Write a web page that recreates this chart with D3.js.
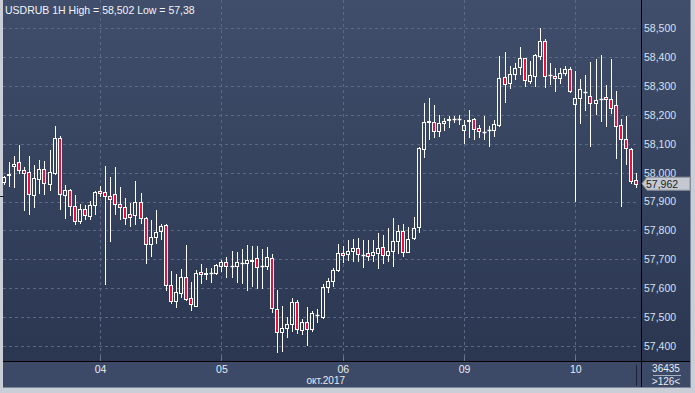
<!DOCTYPE html>
<html><head><meta charset="utf-8">
<script src="https://cdn.jsdelivr.net/npm/d3@7"></script>
<style>html,body{margin:0;padding:0;background:#c9ced7;overflow:hidden}svg{display:block}</style>
</head><body><svg id="c" width="695" height="393"></svg>
<script>
const opens=[57.969,57.992,58.022,58.036,58.008,58.001,57.924,57.978,58.013,57.960,58.000,58.119,57.923,57.940,57.886,57.832,57.873,57.850,57.889,57.937,
57.933,57.918,57.925,57.890,57.880,57.857,57.852,57.898,57.842,57.752,57.776,57.798,57.818,57.610,57.554,57.582,57.638,57.565,57.539,57.655,
57.650,57.651,57.651,57.675,57.691,57.676,57.678,57.686,57.688,57.695,57.704,57.675,57.675,57.704,57.527,57.447,57.463,57.475,57.551,57.454,
57.481,57.457,57.506,57.500,57.604,57.624,57.662,57.721,57.718,57.730,57.739,57.714,57.722,57.715,57.721,57.742,57.715,57.727,57.763,57.798,
57.726,57.773,57.811,58.081,58.177,58.177,58.146,58.171,58.184,58.186,58.185,58.148,58.179,58.185,58.154,58.140,58.148,58.148,58.165,58.331,
58.310,58.342,58.366,58.396,58.319,58.336,58.405,58.456,58.339,58.335,58.327,58.347,58.358,58.237,58.259,58.279,58.267,58.240,58.255,58.261,
58.254,58.233,58.164,58.116,58.081,57.975];
const highs=[57.990,58.038,58.058,58.096,58.019,58.058,58.025,58.044,58.041,58.079,58.163,58.128,57.957,57.945,57.923,57.892,57.888,57.903,57.937,57.955,
58.023,57.986,58.020,57.949,57.911,57.896,57.971,57.931,57.845,57.836,57.871,57.821,57.822,57.659,57.649,57.665,57.749,57.622,57.663,57.684,
57.671,57.671,57.683,57.698,57.709,57.728,57.726,57.735,57.749,57.747,57.747,57.734,57.742,57.719,57.593,57.538,57.501,57.565,57.558,57.493,
57.533,57.520,57.527,57.616,57.634,57.669,57.754,57.747,57.768,57.770,57.774,57.767,57.767,57.766,57.792,57.784,57.807,57.842,57.819,57.821,
57.813,57.848,58.090,58.243,58.258,58.235,58.200,58.188,58.197,58.197,58.201,58.183,58.217,58.190,58.164,58.196,58.162,58.183,58.404,58.417,
58.370,58.381,58.434,58.398,58.387,58.410,58.502,58.463,58.381,58.362,58.364,58.370,58.367,58.352,58.325,58.339,58.383,58.393,58.408,58.304,
58.394,58.284,58.186,58.196,58.085,57.998];
const lows=[57.962,57.954,57.952,57.998,57.870,57.858,57.882,57.931,57.927,57.940,57.995,57.874,57.842,57.853,57.822,57.825,57.839,57.839,57.856,57.919,
57.614,57.764,57.856,57.839,57.822,57.816,57.822,57.827,57.686,57.710,57.758,57.771,57.593,57.547,57.534,57.570,57.560,57.524,57.539,57.617,
57.631,57.622,57.648,57.658,57.638,57.640,57.622,57.619,57.594,57.606,57.600,57.600,57.667,57.518,57.380,57.383,57.430,57.451,57.446,57.441,
57.403,57.453,57.484,57.498,57.587,57.606,57.659,57.689,57.696,57.694,57.695,57.673,57.698,57.693,57.670,57.687,57.693,57.678,57.723,57.711,
57.726,57.769,57.796,58.056,58.116,58.123,58.126,58.148,58.158,58.174,58.170,58.102,58.122,58.116,58.123,58.116,58.093,58.126,58.162,58.246,
58.295,58.324,58.342,58.302,58.312,58.300,58.393,58.298,58.306,58.284,58.312,58.339,58.281,57.903,58.173,58.217,58.092,58.203,58.178,58.162,
58.208,58.050,57.886,58.029,57.965,57.951];
const closes=[57.984,57.996,58.030,58.008,58.000,57.925,57.981,58.013,57.963,58.001,58.119,57.926,57.940,57.885,57.833,57.875,57.852,57.887,57.932,57.929,
57.919,57.908,57.890,57.880,57.842,57.846,57.898,57.844,57.752,57.776,57.794,57.815,57.610,57.554,57.586,57.638,57.563,57.544,57.654,57.648,
57.652,57.651,57.680,57.689,57.677,57.677,57.690,57.687,57.699,57.696,57.672,57.675,57.708,57.530,57.447,57.461,57.475,57.551,57.457,57.481,
57.457,57.513,57.508,57.604,57.624,57.663,57.722,57.714,57.727,57.739,57.718,57.715,57.713,57.725,57.738,57.715,57.727,57.762,57.798,57.726,
57.769,57.807,58.085,58.177,58.178,58.146,58.171,58.179,58.186,58.187,58.186,58.165,58.181,58.151,58.144,58.141,58.149,58.169,58.327,58.306,
58.342,58.364,58.396,58.321,58.338,58.408,58.456,58.336,58.340,58.327,58.346,58.360,58.284,58.258,58.289,58.280,58.243,58.251,58.256,58.254,
58.223,58.163,58.116,58.085,57.972,57.962];
const dayIndex=[19,43,67,91,113];
const dayLabels=["04","05","06","09","10"];
const yTicks=[57.4,57.5,57.6,57.7,57.8,57.9,58.0,58.1,58.2,58.3,58.4,58.5];
const title="USDRUB 1H High = 58,502 Low = 57,38";
const monthLabel="окт.2017";
const lastPrice=57.962;
const barsInfo=["36435",">126<"];

const W=695,H=393;
const plotL=3,plotR=641,plotT=0,plotB=361;
const svg=d3.select("#c");
const font="'Liberation Sans',Arial,sans-serif";
const defs=svg.append("defs");
const g1=defs.append("linearGradient").attr("id","bg").attr("x1",0).attr("y1",0).attr("x2",0).attr("y2",1);
g1.append("stop").attr("offset","0%").attr("stop-color","#404e6b");
g1.append("stop").attr("offset","100%").attr("stop-color","#2b3751");

svg.append("rect").attr("width",W).attr("height",H).attr("fill","#c9ced7");
svg.append("rect").attr("x",3).attr("y",0).attr("width",688).attr("height",388).attr("fill","#3c4966");
svg.append("rect").attr("x",plotL).attr("y",plotT).attr("width",691-plotL).attr("height",plotB).attr("fill","url(#bg)");
svg.append("rect").attr("x",3).attr("y",362).attr("width",688).attr("height",26).attr("fill","#3d4a67");

const x=d3.scaleLinear().domain([0,125]).range([4,636]);
const y=d3.scaleLinear().domain([57.3475,58.5984]).range([plotB,plotT]);
const fmt=v=>d3.format(".3f")(v).replace(".",",");

// horizontal grid
svg.append("g").selectAll("line").data(yTicks).join("line")
 .attr("x1",plotL).attr("x2",638).attr("y1",d=>Math.round(y(d))+0.5).attr("y2",d=>Math.round(y(d))+0.5)
 .attr("stroke","#5a6985").attr("stroke-dasharray","3,3");
// vertical grid
svg.append("g").selectAll("line").data(dayIndex).join("line")
 .attr("x1",d=>Math.round(x(d))+0.5).attr("x2",d=>Math.round(x(d))+0.5).attr("y1",0).attr("y2",plotB)
 .attr("stroke","#5a6985").attr("stroke-dasharray","3,3");

// candles
const data=opens.map((o,i)=>({i,o,h:highs[i],l:lows[i],c:closes[i]}));
const cg=svg.append("g");
data.forEach(d=>{
  const P=Math.round(x(d.i));
  const cx=P+0.5;
  const top=Math.round(y(Math.max(d.o,d.c)));
  let bot=Math.round(y(Math.min(d.o,d.c)));
  if(bot-top<1) bot=top;
  const yh=Math.round(y(d.h)), yl=Math.round(y(d.l));
  cg.append("line").attr("x1",cx).attr("x2",cx).attr("y1",yh).attr("y2",top+0.5).attr("stroke","#fff");
  cg.append("line").attr("x1",cx).attr("x2",cx).attr("y1",bot+0.5).attr("y2",yl+1).attr("stroke","#fff");
  if(bot===top){
    cg.append("line").attr("x1",P-1.5).attr("x2",P+2.5).attr("y1",top+0.5).attr("y2",top+0.5).attr("stroke","#fff").attr("stroke-width",1.4);
  } else {
    cg.append("rect").attr("x",P-1.5).attr("y",top+0.5).attr("width",3).attr("height",bot-top)
      .attr("fill",d.c<d.o?"#e8113d":"none").attr("stroke","#fff").attr("stroke-width",1);
  }
});

// frame lines
svg.append("line").attr("x1",3).attr("x2",691).attr("y1",361.5).attr("y2",361.5).attr("stroke","#000");
svg.append("line").attr("x1",641.5).attr("x2",641.5).attr("y1",0).attr("y2",388).attr("stroke","#000");
svg.append("line").attr("x1",636.5).attr("x2",636.5).attr("y1",365).attr("y2",386).attr("stroke","#1c2334");
svg.append("line").attr("x1",690.5).attr("x2",690.5).attr("y1",0).attr("y2",388).attr("stroke","#7d8799");
svg.append("line").attr("x1",3).attr("x2",691).attr("y1",387.5).attr("y2",387.5).attr("stroke","#7d8799");
svg.append("line").attr("x1",0).attr("x2",4).attr("y1",196.5).attr("y2",196.5).attr("stroke","#222");

// bottom axis
const xa=svg.append("g").attr("transform",`translate(0,${plotB})`)
 .call(d3.axisBottom(x).tickValues(dayIndex).tickFormat((d,i)=>dayLabels[i]).tickSize(0).tickPadding(0));
xa.select(".domain").remove();
xa.selectAll("text").attr("y",12).attr("dy",0).attr("fill","#e6ebf3").attr("font-family",font).attr("font-size","10.5px");
svg.append("g").selectAll("line").data(dayIndex).join("line")
 .attr("x1",d=>Math.round(x(d))+0.5).attr("x2",d=>Math.round(x(d))+0.5).attr("y1",357).attr("y2",360).attr("stroke","#6b7892");
svg.append("text").attr("x",x(67)-17).attr("y",384).attr("text-anchor","middle").attr("fill","#e6ebf3")
 .attr("font-family",font).attr("font-size","10px").text(monthLabel);

// right axis
const ya=svg.append("g").attr("transform",`translate(${plotR},0)`)
 .call(d3.axisRight(y).tickValues(yTicks).tickFormat(fmt).tickSize(0).tickPadding(3));
ya.select(".domain").remove();
ya.selectAll("text").attr("fill","#d7e0ef").attr("font-family",font).attr("font-size","10.5px");

// last price label
const py=y(lastPrice);
svg.append("path").attr("d",`M642,${py} L647,${py-6.5} L690,${py-6.5} L690,${py+6.5} L647,${py+6.5} Z`)
 .attr("fill","#c4c8d0").attr("stroke","#8e949e");
svg.append("text").attr("x",646).attr("y",py+4).attr("fill","#1b1f27").attr("font-family",font).attr("font-size","10.5px").text(fmt(lastPrice));

// bars info
svg.append("text").attr("x",666).attr("y",372).attr("text-anchor","middle").attr("fill","#e6ebf3").attr("font-family",font).attr("font-size","10px").text(barsInfo[0]);
svg.append("line").attr("x1",653).attr("x2",681).attr("y1",375.5).attr("y2",375.5).attr("stroke","#a8b1c2");
svg.append("text").attr("x",666).attr("y",384.5).attr("text-anchor","middle").attr("fill","#e6ebf3").attr("font-family",font).attr("font-size","10px").text(barsInfo[1]);

// title
svg.append("text").attr("x",5).attr("y",14).attr("fill","#f2f4f8").attr("font-family",font).attr("font-size","10.5px").text(title);
</script></body></html>
